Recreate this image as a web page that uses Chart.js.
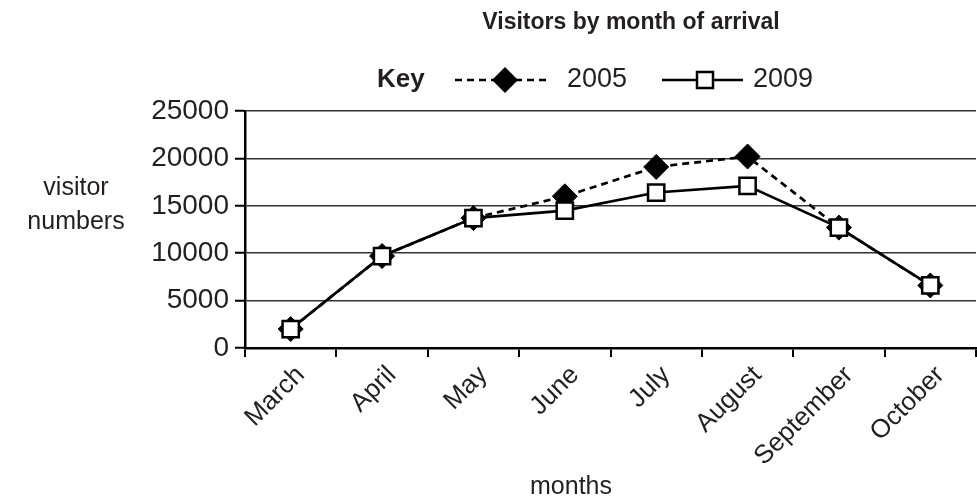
<!DOCTYPE html>
<html>
<head>
<meta charset="utf-8">
<script src="https://cdn.jsdelivr.net/npm/chart.js@4.4.1/dist/chart.umd.min.js"></script>
<style>
  html, body { margin: 0; padding: 0; background: #fff; overflow: hidden; }
  #wrap { position: absolute; left: 0; top: 0; width: 990px; height: 504px; }
</style>
</head>
<body>
<div id="wrap"><canvas id="chart" width="990" height="504"></canvas></div>
<script>
// データ
const months = ["March", "April", "May", "June", "July", "August", "September", "October"];
const visitors2005 = [2000, 9700, 13700, 16000, 19100, 20200, 12700, 6600];
const visitors2009 = [2000, 9700, 13700, 14500, 16400, 17100, 12700, 6600];
const yTickValues = [0, 5000, 10000, 15000, 20000, 25000];

const FONT = "'Liberation Sans', Arial, Helvetica, sans-serif";
const TEXT = "#231f20";

// タイトル・凡例・軸タイトルを描くプラグイン
const decorations = {
    id: "decorations",
    afterDraw(chart) {
        const ctx = chart.ctx;
        ctx.save();
        ctx.fillStyle = TEXT;
        ctx.textBaseline = "middle";

        // タイトル
        ctx.font = "bold 23px " + FONT;
        ctx.textAlign = "center";
        ctx.fillText("Visitors by month of arrival", 631, 23);

        // 凡例 (Key)
        const ly = 80;
        ctx.font = "bold 26px " + FONT;
        ctx.textAlign = "left";
        ctx.fillText("Key", 377, ly);

        ctx.strokeStyle = "#000";
        ctx.lineWidth = 2.5;
        ctx.setLineDash([7, 5]);
        ctx.beginPath();
        ctx.moveTo(455, ly);
        ctx.lineTo(550, ly);
        ctx.stroke();
        ctx.setLineDash([]);
        // ひし形マーカー
        ctx.fillStyle = "#000";
        ctx.beginPath();
        ctx.moveTo(505, ly - 13);
        ctx.lineTo(518, ly);
        ctx.lineTo(505, ly + 13);
        ctx.lineTo(492, ly);
        ctx.closePath();
        ctx.fill();

        ctx.beginPath();
        ctx.moveTo(662, ly);
        ctx.lineTo(743, ly);
        ctx.stroke();
        // 四角マーカー
        ctx.fillStyle = "#fff";
        ctx.fillRect(697, ly - 8, 16, 16);
        ctx.strokeRect(697, ly - 8, 16, 16);

        ctx.fillStyle = TEXT;
        ctx.font = "27px " + FONT;
        ctx.fillText("2005", 567, ly);
        ctx.fillText("2009", 753, ly);

        // Y軸タイトル (横書き2行)
        ctx.textAlign = "center";
        ctx.font = "25px " + FONT;
        ctx.fillText("visitor", 76, 188);
        ctx.fillText("numbers", 76, 222);

        // X軸タイトル
        ctx.fillText("months", 571, 487);
        ctx.restore();
    }
};

const ctx = document.getElementById("chart").getContext("2d");
new Chart(ctx, {
    type: "line",
    data: {
        labels: months,
        datasets: [
            {
                label: "2009",
                data: visitors2009,
                borderColor: "#000",
                borderWidth: 2.7,
                pointStyle: "rect",
                pointRadius: 11.5,
                pointBackgroundColor: "#fff",
                pointBorderColor: "#000",
                pointBorderWidth: 2.5,
                tension: 0,
                order: 1
            },
            {
                label: "2005",
                data: visitors2005,
                borderColor: "#000",
                borderWidth: 2.7,
                borderDash: [7, 5],
                pointStyle: "rectRot",
                pointRadius: 12.5,
                pointBackgroundColor: "#000",
                pointBorderColor: "#000",
                pointBorderWidth: 1,
                tension: 0,
                order: 2
            }
        ]
    },
    options: {
        responsive: false,
        animation: false,
        devicePixelRatio: 1,
        layout: { padding: { top: 111, right: 2, bottom: 0, left: 0 } },
        plugins: {
            legend: { display: false },
            title: { display: false },
            tooltip: { enabled: false }
        },
        scales: {
            x: {
                offset: true,
                grid: {
                    offset: true,
                    drawOnChartArea: false,
                    drawTicks: true,
                    tickLength: 9,
                    color: "#000",
                    lineWidth: 2
                },
                border: { color: "#000", width: 2.5 },
                ticks: {
                    autoSkip: false,
                    maxRotation: 45,
                    minRotation: 45,
                    padding: 3,
                    labelOffset: 10,
                    color: TEXT,
                    font: { family: FONT, size: 26 }
                },
                afterFit(scale) {
                    scale.height = 156;
                    scale.paddingLeft = 0;
                    scale.paddingRight = 0;
                }
            },
            y: {
                min: 0,
                max: 25000,
                afterBuildTicks(scale) {
                    scale.ticks = yTickValues.map(v => ({ value: v }));
                },
                grid: {
                    color: "#333",
                    lineWidth: 1.5,
                    drawTicks: true,
                    tickLength: 10,
                    tickColor: "#000",
                    tickWidth: 2
                },
                border: { color: "#000", width: 2.5 },
                ticks: {
                    padding: 6,
                    color: TEXT,
                    font: { family: FONT, size: 28 },
                    callback: (value) => String(value) // 桁区切りなし
                },
                afterFit(scale) {
                    scale.width = 245;
                }
            }
        }
    },
    plugins: [decorations]
});
</script>
</body>
</html>
